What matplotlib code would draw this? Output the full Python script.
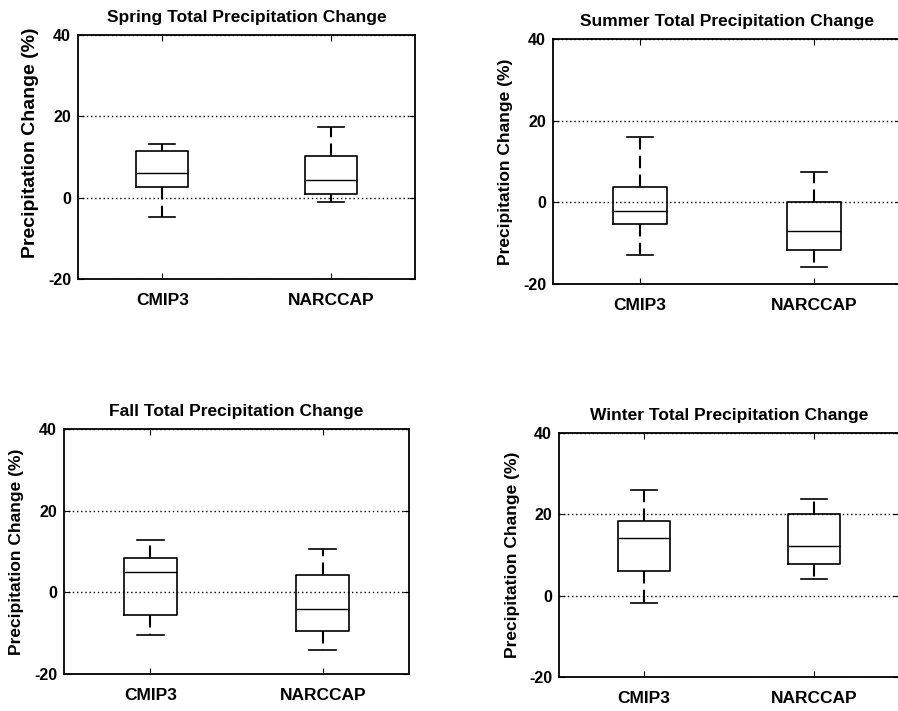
import matplotlib
matplotlib.use("Agg")
import matplotlib.pyplot as plt

plt.rcParams['font.family'] = ['Liberation Sans', 'DejaVu Sans']

categories = ["CMIP3", "NARCCAP"]
titles = ["Spring Total Precipitation Change", "Summer Total Precipitation Change",
          "Fall Total Precipitation Change", "Winter Total Precipitation Change"]
ylabel = "Precipitation Change (%)"
yticks = [-20, 0, 20, 40]

# per season: [CMIP3, NARCCAP] -> (whislo, q1, med, q3, whishi)
spring = [(-4.7, 2.7, 6.0, 11.4, 13.2), (-1.0, 0.8, 4.3, 10.2, 17.4)]
summer = [(-12.8, -5.2, -2.1, 3.7, 16.0), (-15.8, -11.6, -7.0, 0.0, 7.4)]
fall = [(-10.4, -5.5, 4.9, 8.5, 12.7), (-14.2, -9.5, -4.1, 4.3, 10.5)]
winter = [(-1.9, 6.1, 14.1, 18.4, 26.0), (4.1, 7.7, 12.3, 20.0, 23.8)]
seasons = [spring, summer, fall, winter]

W, H = 898, 711
fig = plt.figure(figsize=(W / 100, H / 100), dpi=100)

# axes rectangles in pixels: left, top, right, bottom
rects = [(78, 35, 415, 279), (553, 39, 901, 284), (64, 429, 409, 674), (559, 433, 899, 677)]
title_sizes = [12.5, 12.5, 12.5, 12.5]
ylabel_sizes = [14, 12.5, 12.5, 12.5]
ylabel_y = [0.56, 0.5, 0.5, 0.5]

for i, (season, rect) in enumerate(zip(seasons, rects)):
    l, t, r, b = rect
    ax = fig.add_axes([l / W, (H - b) / H, (r - l) / W, (b - t) / H])
    stats = []
    for name, (lo, q1, med, q3, hi) in zip(categories, season):
        stats.append(dict(label=name, whislo=lo, q1=q1, med=med, q3=q3, whishi=hi, fliers=[]))
    ax.bxp(stats, positions=[1, 2], widths=0.31, showfliers=False,
           boxprops=dict(color='black', linewidth=1.2),
           medianprops=dict(color='black', linewidth=1.0),
           whiskerprops=dict(color='black', linewidth=1.5, linestyle=(0, (6, 3))),
           capprops=dict(color='black', linewidth=1.2))
    ax.set_xlim(0.5, 2.5)
    ax.set_ylim(-20, 40)
    ax.set_yticks(yticks)
    ax.set_yticklabels([str(v) for v in yticks], fontsize=11.5, fontweight='bold')
    ax.set_xticks([1, 2])
    ax.set_xticklabels(categories, fontsize=12.5, fontweight='bold')
    ax.tick_params(axis='x', direction='in', top=True, length=4, pad=10)
    ax.tick_params(axis='y', direction='in', right=True, length=4, pad=5)
    ax.yaxis.grid(True, linestyle=(0, (1, 2)), color='black', linewidth=1.0)
    ax.set_axisbelow(True)
    for sp in ax.spines.values():
        sp.set_linewidth(1.3)
    ax.set_title(titles[i], fontsize=title_sizes[i], fontweight='bold', pad=9.5)
    ax.set_ylabel(ylabel, fontsize=ylabel_sizes[i], fontweight='bold')
    ax.yaxis.set_label_coords(-0.115, ylabel_y[i])

fig.savefig("out.png", dpi=100, facecolor='white')
